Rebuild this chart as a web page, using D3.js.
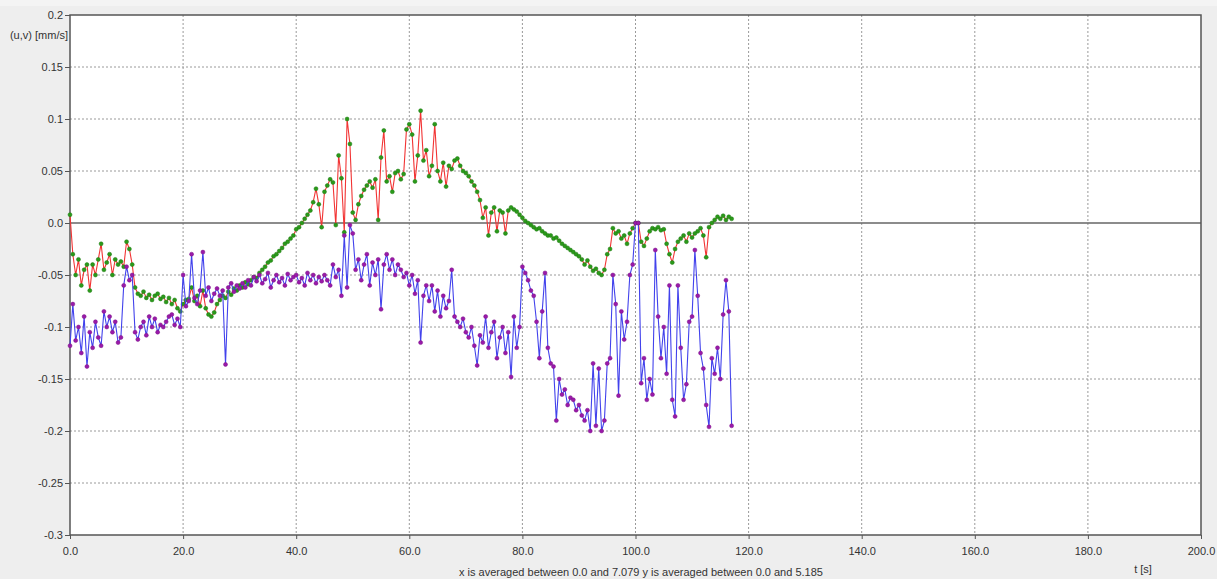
<!DOCTYPE html>
<html>
<head>
<meta charset="utf-8">
<script src="https://cdn.jsdelivr.net/npm/d3@7"></script>
<style>
  html, body { margin: 0; padding: 0; background: #fff; }
  svg { display: block; font-family: "Liberation Sans", Arial, sans-serif; }
</style>
</head>
<body>
<div id="chart"></div>
<script>
// sampling of the time series (s)
const tStart = 0;
const tStep = 0.5;

// u component [mm/s], one value every 0.5 s from 0 to 117 s
const uValues = [
  0.008, -0.03, -0.05, -0.035, -0.06, -0.045, -0.04, -0.065, -0.04, -0.05,
  -0.035, -0.02, -0.045, -0.038, -0.03, -0.05, -0.035, -0.04, -0.037, -0.042,
  -0.018, -0.025, -0.04, -0.062, -0.068, -0.07, -0.066, -0.072, -0.069, -0.074,
  -0.07, -0.068, -0.073, -0.071, -0.076, -0.072, -0.078, -0.074, -0.082, -0.085,
  -0.078, -0.074, -0.073, -0.062, -0.075, -0.07, -0.08, -0.065, -0.082, -0.088,
  -0.09, -0.086, -0.078, -0.074, -0.07, -0.072, -0.066, -0.069, -0.063, -0.065,
  -0.06, -0.062, -0.057, -0.059, -0.055, -0.052, -0.053, -0.048, -0.045, -0.042,
  -0.038, -0.036, -0.032, -0.03, -0.027, -0.024, -0.02, -0.018, -0.015, -0.012,
  -0.006, -0.004, 0.0, 0.004, 0.008, 0.012, 0.02, 0.033, 0.018, -0.004,
  0.03, 0.036, 0.042, 0.039, -0.002, 0.065, 0.043, -0.009, 0.1, 0.076,
  0.01, 0.003, 0.018, 0.026, 0.032, 0.036, 0.04, 0.034, 0.042, 0.003,
  0.063, 0.089, 0.04, 0.045, 0.03, 0.048, 0.05, 0.042, 0.047, 0.09,
  0.095, 0.085, 0.04, 0.065, 0.108, 0.06, 0.07, 0.045, 0.055, 0.095,
  0.05, 0.04, 0.058, 0.035, 0.055, 0.052, 0.06, 0.062, 0.055, 0.05,
  0.048, 0.045, 0.04, 0.036, 0.03, 0.022, 0.005, 0.015, -0.012, 0.01,
  0.015, -0.008, 0.012, 0.01, -0.01, 0.012, 0.015, 0.013, 0.011, 0.008,
  0.005, 0.002, 0.0, -0.002, -0.004, -0.006, -0.005, -0.008, -0.01, -0.012,
  -0.012, -0.015, -0.014, -0.017, -0.02, -0.022, -0.024, -0.026, -0.028, -0.03,
  -0.032, -0.035, -0.04, -0.036, -0.042, -0.046, -0.044, -0.048, -0.05, -0.045,
  -0.03, -0.025, -0.005, -0.01, -0.008, -0.015, -0.012, -0.02, -0.01, -0.005,
  0.0, 0.0, -0.018, -0.022, -0.015, -0.008, -0.005, -0.006, -0.004, -0.007,
  -0.006, -0.02, -0.03, -0.038, -0.025, -0.018, -0.015, -0.012, -0.018, -0.01,
  -0.014, -0.01, -0.008, -0.005, -0.012, -0.033, -0.004, 0.0, 0.003, 0.006,
  0.004, 0.007, 0.003, 0.006, 0.004
];

// v component [mm/s], same sampling
const vValues = [
  -0.118, -0.078, -0.113, -0.1, -0.125, -0.09, -0.138, -0.105, -0.12, -0.095,
  -0.11, -0.118, -0.085, -0.1, -0.09, -0.105, -0.095, -0.115, -0.11, -0.06,
  -0.042, -0.055, -0.05, -0.105, -0.112, -0.1, -0.095, -0.108, -0.09, -0.1,
  -0.092, -0.105, -0.098, -0.1, -0.095, -0.09, -0.088, -0.098, -0.092, -0.1,
  -0.05, -0.08, -0.075, -0.03, -0.072, -0.078, -0.065, -0.028, -0.07, -0.062,
  -0.075, -0.068, -0.063, -0.07, -0.065, -0.136, -0.062, -0.058, -0.066, -0.06,
  -0.063, -0.058, -0.062, -0.055, -0.06, -0.052, -0.056, -0.05, -0.058, -0.054,
  -0.048, -0.062, -0.055, -0.05, -0.057, -0.053, -0.06, -0.049, -0.055, -0.052,
  -0.05, -0.057, -0.053, -0.06, -0.048, -0.055, -0.05, -0.058, -0.052, -0.056,
  -0.05, -0.055, -0.06, -0.04, -0.052, -0.045, -0.07, -0.012, -0.062, -0.002,
  -0.01, -0.045, -0.035, -0.055, -0.04, -0.03, -0.06, -0.038, -0.05, -0.035,
  -0.083, -0.04, -0.03, -0.045, -0.035, -0.05, -0.04, -0.045, -0.052, -0.048,
  -0.06, -0.05, -0.068, -0.055, -0.115, -0.07, -0.06, -0.075, -0.06, -0.085,
  -0.065, -0.09, -0.07, -0.082, -0.075, -0.045, -0.09, -0.095, -0.1, -0.092,
  -0.105, -0.11, -0.1, -0.118, -0.137, -0.108, -0.115, -0.09, -0.12, -0.105,
  -0.095, -0.13, -0.11, -0.1, -0.125, -0.105, -0.148, -0.09, -0.12, -0.1,
  -0.042, -0.048, -0.055, -0.065, -0.07, -0.095, -0.13, -0.085, -0.048, -0.12,
  -0.135, -0.138, -0.19, -0.15, -0.165, -0.16, -0.175, -0.168, -0.17, -0.18,
  -0.175, -0.185, -0.19, -0.18, -0.2, -0.135, -0.195, -0.14, -0.2, -0.19,
  -0.135, -0.13, -0.05, -0.078, -0.166, -0.085, -0.112, -0.095, -0.05, -0.04,
  0.0, 0.0, -0.154, -0.13, -0.17, -0.15, -0.165, -0.026, -0.09, -0.13,
  -0.1, -0.145, -0.06, -0.17, -0.186, -0.06, -0.12, -0.17, -0.155, -0.095,
  -0.09, -0.026, -0.07, -0.125, -0.14, -0.175, -0.196, -0.13, -0.145, -0.12,
  -0.15, -0.088, -0.055, -0.085, -0.195
];

const xTicks = [0, 20, 40, 60, 80, 100, 120, 140, 160, 180, 200];
const yTicks = [0.2, 0.15, 0.1, 0.05, 0, -0.05, -0.1, -0.15, -0.2, -0.25, -0.3];

const width = 1217, height = 579;
const margin = { top: 15, right: 16, bottom: 44, left: 70 };
const plotW = width - margin.left - margin.right;
const plotH = height - margin.top - margin.bottom;

const svg = d3.select("#chart").append("svg")
  .attr("width", width)
  .attr("height", height);

// grey panel behind the plot
svg.append("rect").attr("width", width).attr("height", height).attr("fill", "#eeeeee");
svg.append("rect").attr("width", width).attr("height", 6).attr("fill", "#f4f4f4");

const g = svg.append("g").attr("transform", `translate(${margin.left},${margin.top})`);

const x = d3.scaleLinear().domain([0, 200]).range([0, plotW]);
const y = d3.scaleLinear().domain([-0.3, 0.2]).range([plotH, 0]);

g.append("rect").attr("width", plotW).attr("height", plotH).attr("fill", "#fff");

// dotted grid
g.append("g").selectAll("line").data(xTicks.slice(1, -1)).join("line")
  .attr("x1", d => x(d)).attr("x2", d => x(d))
  .attr("y1", 0).attr("y2", plotH)
  .attr("stroke", "#9a9a9a").attr("stroke-dasharray", "2,2");
g.append("g").selectAll("line").data(yTicks.filter(d => d !== 0 && d !== 0.2 && d !== -0.3)).join("line")
  .attr("x1", 0).attr("x2", plotW)
  .attr("y1", d => y(d)).attr("y2", d => y(d))
  .attr("stroke", "#9a9a9a").attr("stroke-dasharray", "2,2");

// zero line
g.append("line")
  .attr("x1", 0).attr("x2", plotW)
  .attr("y1", y(0)).attr("y2", y(0))
  .attr("stroke", "#666").attr("stroke-width", 1.5);

const fmtY = d => d === 0 ? "0.0" : String(d);
const fmtX = d3.format(".1f");

const yAxis = g.append("g")
  .call(d3.axisLeft(y).tickValues(yTicks).tickFormat(fmtY).tickSize(5).tickPadding(2));
const xAxis = g.append("g")
  .attr("transform", `translate(0,${plotH})`)
  .call(d3.axisBottom(x).tickValues(xTicks).tickFormat(fmtX).tickSize(4).tickPadding(8));

[yAxis, xAxis].forEach(a => {
  a.select(".domain").remove();
  a.selectAll(".tick line").attr("stroke", "#555");
  a.selectAll(".tick text").attr("fill", "#333").style("font-size", "11px");
});

// frame
g.append("rect").attr("width", plotW).attr("height", plotH)
  .attr("fill", "none").attr("stroke", "#555").attr("stroke-width", 1.5);

// series
const uData = uValues.map((v, i) => ({ t: tStart + i * tStep, v }));
const vData = vValues.map((v, i) => ({ t: tStart + i * tStep, v }));

const line = d3.line().x(d => x(d.t)).y(d => y(d.v));

function drawSeries(data, lineColor, dotColor, dotStroke) {
  g.append("path").datum(data)
    .attr("fill", "none")
    .attr("stroke", lineColor)
    .attr("stroke-width", 1.1)
    .attr("d", line);
  g.append("g").selectAll("circle").data(data).join("circle")
    .attr("cx", d => x(d.t))
    .attr("cy", d => y(d.v))
    .attr("r", 2)
    .attr("fill", dotColor)
    .attr("stroke", dotStroke)
    .attr("stroke-width", 0.5);
}

drawSeries(uData, "#f23434", "#2a9a1a", "#1f7a12");
drawSeries(vData, "#4242ec", "#9a1aa8", "#7a1088");

// labels
svg.append("text")
  .attr("x", margin.left - 2).attr("y", 39)
  .attr("text-anchor", "end")
  .attr("fill", "#333").style("font-size", "11px")
  .text("(u,v) [mm/s]");

svg.append("text")
  .attr("x", 1143).attr("y", 573)
  .attr("text-anchor", "middle")
  .attr("fill", "#333").style("font-size", "11px")
  .text("t [s]");

svg.append("text")
  .attr("x", 641).attr("y", 576)
  .attr("text-anchor", "middle")
  .attr("fill", "#333").style("font-size", "11px")
  .text("x is averaged between 0.0 and 7.079 y is averaged between 0.0 and 5.185");
</script>
</body>
</html>
